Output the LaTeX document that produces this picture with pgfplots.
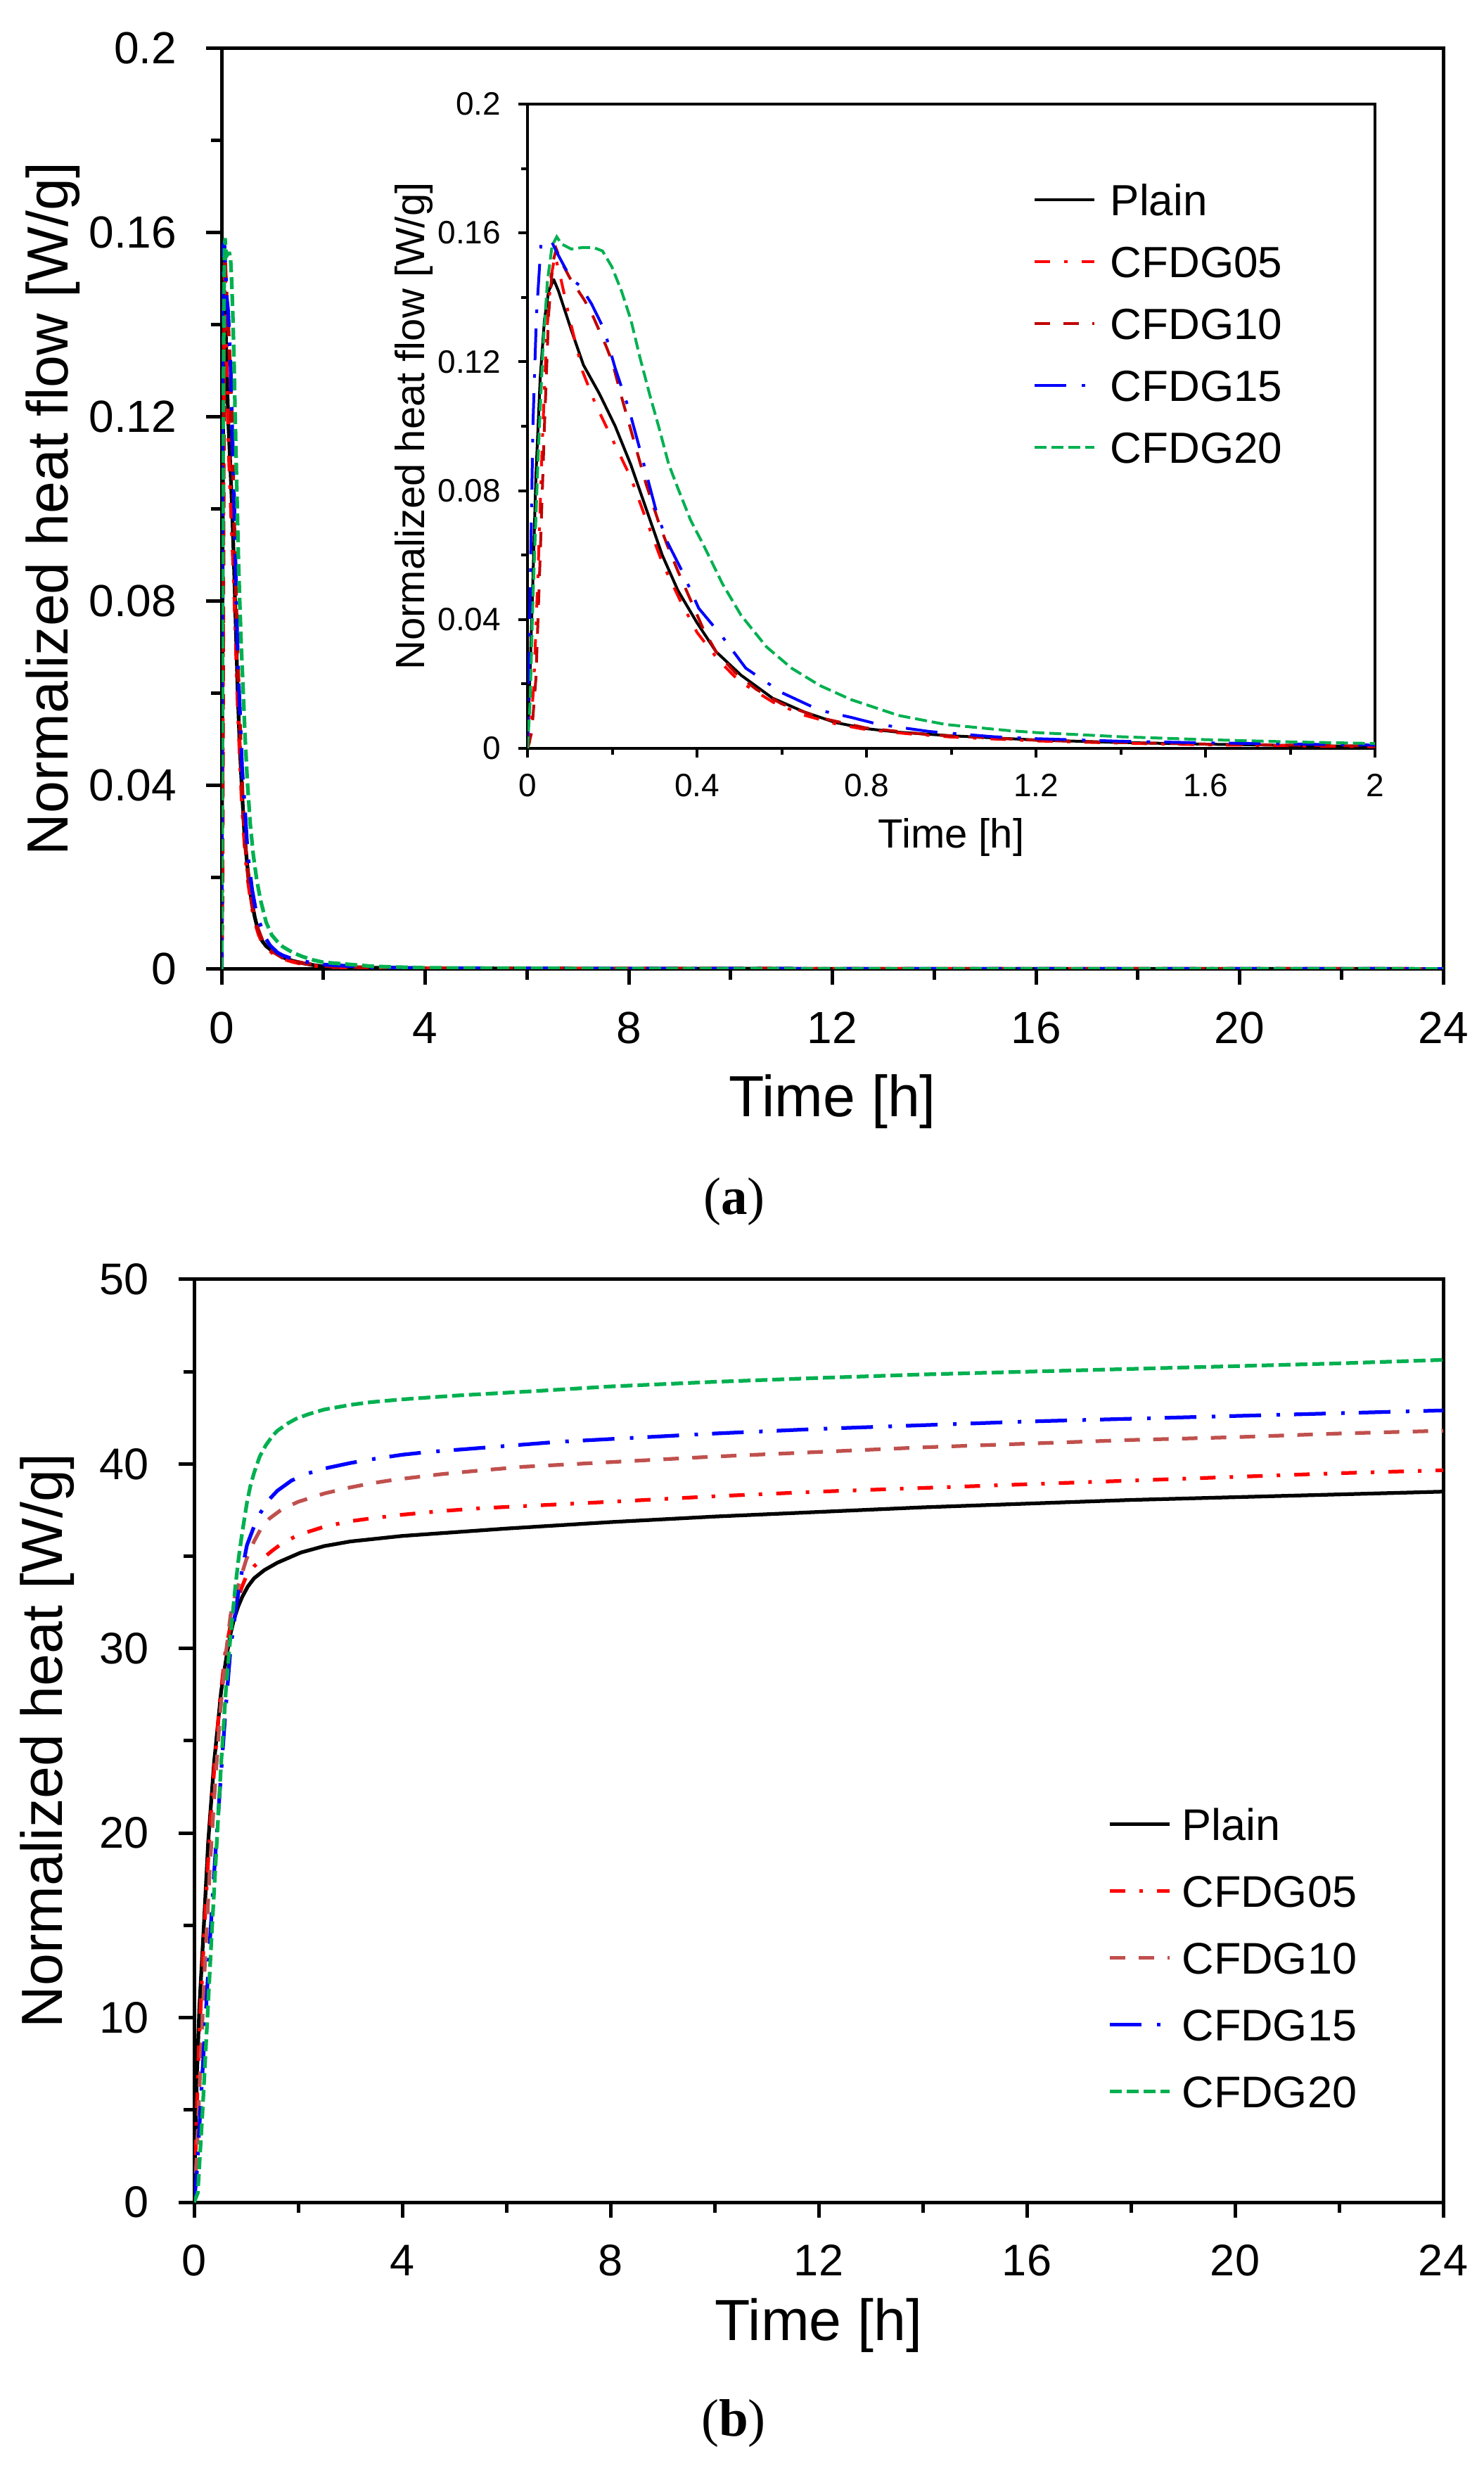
\documentclass[border=0pt]{standalone}
\usepackage{fontspec}
\setmainfont{Liberation Sans}
\newfontfamily\capfont{Liberation Serif}
\usepackage{pgfplots}
\usepackage{pgfplotstable}
\pgfplotsset{compat=1.18}

\definecolor{cred}{RGB}{255,0,0}
\definecolor{cdred}{RGB}{192,0,0}
\definecolor{crose}{RGB}{192,80,77}
\definecolor{cblue}{RGB}{0,0,255}
\definecolor{cgreen}{RGB}{0,176,80}

\pgfplotstableread{
t v
0 0
0.01 0.04
0.02 0.085
0.03 0.115
0.04 0.133
0.05 0.142
0.062 0.1455
0.073 0.142
0.103 0.130
0.132 0.119
0.17 0.110
0.207 0.100
0.244 0.088
0.281 0.074
0.318 0.060
0.355 0.049
0.40 0.039
0.445 0.030
0.504 0.0227
0.578 0.0156
0.653 0.0113
0.727 0.0080
0.80 0.0061
0.876 0.0050
1.0 0.0039
1.2 0.0026
1.4 0.0018
1.6 0.0013
1.8 0.0009
2.0 0.0006
3 0.0003
4 0.0002
8 0.0001
24 0.00005
}\fPlain

\pgfplotstableread{
t v
0 0
0.005 0.002
0.015 0.02
0.025 0.055
0.035 0.095
0.045 0.128
0.055 0.146
0.065 0.153
0.08 0.145
0.1 0.133
0.13 0.117
0.16 0.107
0.2 0.096
0.244 0.084
0.28 0.071
0.32 0.057
0.36 0.046
0.4 0.036
0.45 0.0275
0.5 0.0208
0.58 0.0143
0.65 0.0104
0.73 0.0075
0.8 0.0058
0.9 0.0045
1.0 0.0035
1.2 0.0023
1.4 0.0016
1.6 0.0011
1.8 0.0008
2.0 0.0005
3 0.0003
4 0.0002
8 0.0001
24 0.00005
}\fA

\pgfplotstableread{
t v
0 0
0.01 0.005
0.02 0.022
0.03 0.06
0.04 0.10
0.05 0.135
0.06 0.151
0.068 0.155
0.08 0.151
0.1 0.146
0.135 0.139
0.155 0.134
0.185 0.125
0.2 0.12
0.22 0.11
0.25 0.096
0.28 0.082
0.31 0.070
0.33 0.063
0.355 0.055
0.385 0.046
0.415 0.037
0.445 0.030
0.49 0.0235
0.54 0.0183
0.6 0.0138
0.69 0.0095
0.8 0.0063
0.95 0.0042
1.2 0.0025
1.4 0.0018
1.6 0.0013
2.0 0.0007
3 0.0003
4 0.0002
8 0.0001
24 0.00005
}\fB

\pgfplotstableread{
t v
0 0
0.006 0.047
0.013 0.101
0.021 0.134
0.032 0.157
0.045 0.1575
0.058 0.157
0.073 0.153
0.103 0.1457
0.125 0.1435
0.151 0.138
0.181 0.130
0.207 0.118
0.24 0.105
0.27 0.0905
0.303 0.074
0.329 0.0643
0.363 0.0555
0.404 0.0435
0.459 0.0348
0.515 0.0249
0.60 0.0173
0.69 0.0118
0.764 0.0096
0.83 0.0074
0.95 0.0052
1.1 0.0036
1.2 0.0030
1.4 0.0022
1.6 0.0017
2.0 0.0010
3 0.0004
4 0.0002
8 0.0001
24 0.00005
}\fC

\pgfplotstableread{
t v
0 0
0.006 0.014
0.013 0.047
0.025 0.09
0.036 0.123
0.047 0.145
0.058 0.156
0.069 0.1588
0.08 0.1566
0.103 0.155
0.132 0.1555
0.155 0.1555
0.177 0.1544
0.199 0.1495
0.222 0.1419
0.244 0.133
0.266 0.121
0.288 0.110
0.311 0.0992
0.333 0.0883
0.355 0.0807
0.385 0.0708
0.415 0.0632
0.46 0.0511
0.504 0.0413
0.564 0.0315
0.623 0.0249
0.69 0.0195
0.764 0.0151
0.876 0.0102
0.987 0.0074
1.136 0.0055
1.2 0.0049
1.4 0.0036
1.6 0.0027
1.8 0.0020
2.0 0.0015
3 0.0006
4 0.0003
8 0.0001
24 0.00005
}\fD

\pgfplotstableread{
t v
0 0
0.02 3
0.05 6.5
0.1 10.5
0.18 14.6
0.27 19.5
0.383 23.8
0.52 27.7
0.63 29.7
0.7 30.8
0.767 31.6
0.85 32.3
0.925 32.8
1.03 33.35
1.15 33.8
1.35 34.25
1.6 34.65
2.05 35.2
2.5 35.55
3 35.8
4 36.1
5 36.3
6 36.5
8 36.85
10 37.15
12 37.4
14 37.65
16 37.85
18 38.05
20 38.2
22 38.35
24 38.5
}\hPlain

\pgfplotstableread{
t v
0 0
0.02 2
0.05 5
0.1 9
0.2 15
0.3 20
0.4 24
0.5 27.3
0.6 29.8
0.7 31.3
0.83 32.6
0.92 33.35
1.015 34.0
1.15 34.45
1.285 34.8
1.5 35.3
1.69 35.7
2.0 36.15
2.5 36.6
3 36.9
3.4 37.05
4 37.25
4.76 37.45
5.5 37.6
6.56 37.75
8 37.95
10 38.25
12 38.5
14 38.7
16 38.9
18 39.1
20 39.3
22 39.5
24 39.66
}\hA

\pgfplotstableread{
t v
0 0
0.05 2.5
0.1 6
0.2 12.5
0.3 18
0.4 22.5
0.5 26.5
0.6 29.5
0.7 31.8
0.8 33.0
0.88 33.7
1.0 34.8
1.15 35.8
1.285 36.5
1.45 37.05
1.69 37.55
2.0 37.95
2.5 38.4
2.95 38.7
3.4 38.95
3.86 39.15
4.76 39.45
5.5 39.65
6.34 39.85
8 40.1
10 40.4
12 40.65
14 40.9
16 41.1
18 41.3
20 41.45
22 41.65
24 41.8
}\hB

\pgfplotstableread{
t v
0 0
0.05 1.5
0.1 4
0.2 9
0.3 14
0.4 18.5
0.5 22.5
0.6 26.5
0.7 30.0
0.81 32.3
0.925 34.3
1.015 35.6
1.15 36.6
1.285 37.4
1.45 38.1
1.6 38.55
1.87 39.1
2.2 39.5
2.5 39.75
3 40.05
3.4 40.25
4 40.5
4.5 40.65
5.2 40.8
6.1 41.0
7 41.2
8 41.35
10 41.65
12 41.9
14 42.1
16 42.3
18 42.45
20 42.6
22 42.75
24 42.9
}\hC

\pgfplotstableread{
t v
0 0
0.07 0.5
0.16 4.8
0.25 9.7
0.34 14.6
0.43 19.2
0.52 23.8
0.61 27.7
0.7 30.7
0.79 33.3
0.86 35.0
0.925 36.3
1.015 37.9
1.08 38.8
1.15 39.5
1.26 40.4
1.375 41.0
1.5 41.5
1.6 41.8
1.8 42.2
1.96 42.45
2.2 42.7
2.5 42.95
3 43.2
3.4 43.35
4 43.5
5 43.7
6.56 43.95
8 44.2
10 44.45
12 44.66
14 44.85
16 45.0
18 45.15
20 45.3
22 45.45
24 45.64
}\hD

\pgfplotsset{
  base/.style={
    scale only axis, anchor=south west,
    axis line style={line width=1pt, black},
    every tick/.style={line width=1pt, black},
    tick align=outside, tick pos=left,
    major tick length=4.4pt, minor tick length=3pt,
    /pgf/number format/assume math mode=true,
    minor x tick num=1, minor y tick num=1,
    legend cell align=left,
    legend image code/.code={\draw[##1] (0pt,0pt) -- (17pt,0pt);},
  },
  lw/.style={line width=1.05pt},
  sP/.style={black, lw, line join=round},
  sA/.style={cred, lw, dash pattern=on 4.4pt off 4pt on 1pt off 4pt},
  sB/.style={cdred, lw, dash pattern=on 4.4pt off 3.8pt},
  sBb/.style={crose, lw, dash pattern=on 4.4pt off 3.8pt},
  sC/.style={cblue, lw, dash pattern=on 9pt off 4.4pt on 1pt off 4pt},
  sD/.style={cgreen, lw, dash pattern=on 3.4pt off 1.4pt},
}

\begin{document}
\begin{tikzpicture}
\path[use as bounding box] (0,0) rectangle (422pt,703.2pt);

% ---------- (a) main ----------
\begin{axis}[base,
  at={(63pt,427.6pt)}, width=347.4pt, height=261.8pt,
  xmin=0, xmax=24, ymin=0, ymax=0.2,
  xtick={0,4,8,12,16,20,24},
  ytick={0,0.04,0.08,0.12,0.16,0.2},
  yticklabels={0,0.04,0.08,0.12,0.16,0.2},
  tick label style={font=\fontsize{12.8}{15}\selectfont},
  yticklabel style={anchor=east, inner sep=0pt, xshift=-8.2pt},
  xticklabel style={anchor=north, inner sep=0pt, yshift=-7.6pt},
  label style={font=\fontsize{16.5}{19}\selectfont},
  xlabel={Time [h]}, ylabel={Normalized heat flow [W/g]},
  xlabel style={at={(axis description cs:0.5,-0.1604)}, anchor=base},
  ylabel style={at={(axis description cs:-0.138,0.5)}, anchor=center},
]
\addplot[sP] table[x=t,y=v] {\fPlain};
\addplot[sA] table[x=t,y=v] {\fA};
\addplot[sB] table[x=t,y=v] {\fB};
\addplot[sC] table[x=t,y=v] {\fC};
\addplot[sD] table[x=t,y=v] {\fD};
\end{axis}

% ---------- (a) inset ----------
\begin{axis}[base,
  at={(150pt,490.4pt)}, width=241pt, height=183.2pt,
  axis line style={line width=0.8pt, black},
  every tick/.style={line width=0.8pt, black},
  lw/.style={line width=0.8pt},
  major tick length=2.6pt, minor tick length=1.8pt,
  xmin=0, xmax=2, ymin=0, ymax=0.2,
  xtick={0,0.4,0.8,1.2,1.6,2},
  xticklabels={0,0.4,0.8,1.2,1.6,2},
  ytick={0,0.04,0.08,0.12,0.16,0.2},
  yticklabels={0,0.04,0.08,0.12,0.16,0.2},
  tick label style={font=\fontsize{9.2}{11}\selectfont},
  yticklabel style={anchor=east, inner sep=0pt, xshift=-4.8pt},
  xticklabel style={anchor=north, inner sep=0pt, yshift=-4.5pt},
  label style={font=\fontsize{11.6}{14}\selectfont},
  xlabel={Time [h]}, ylabel={Normalized heat flow [W/g]},
  xlabel style={at={(axis description cs:0.5,-0.154)}, anchor=base},
  ylabel style={at={(axis description cs:-0.1344,0.5)}, anchor=center},
  legend style={draw=none, fill=none, at={(axis description cs:0.596,0.877)}, anchor=north west,
    font=\fontsize{12.4}{14}\selectfont, inner sep=0pt, row sep=8.6pt,
    nodes={inner sep=0pt, text height=9pt, text depth=0pt},
    cells={anchor=west},
    /tikz/every odd column/.style={column sep=4.1pt}},
]
\addplot[sP] table[x=t,y=v] {\fPlain};
\addplot[sA] table[x=t,y=v] {\fA};
\addplot[sB] table[x=t,y=v] {\fB};
\addplot[sC] table[x=t,y=v] {\fC};
\addplot[sD] table[x=t,y=v] {\fD};
\legend{Plain,CFDG05,CFDG10,CFDG15,CFDG20}
\end{axis}

\node[font=\capfont\fontsize{15}{18}\selectfont] at (208.8pt,361.6pt) {(\textbf{a})};

% ---------- (b) ----------
\begin{axis}[base,
  at={(55.2pt,77pt)}, width=355.2pt, height=262.4pt,
  xmin=0, xmax=24, ymin=0, ymax=50,
  xtick={0,4,8,12,16,20,24},
  ytick={0,10,20,30,40,50},
  tick label style={font=\fontsize{12.6}{15}\selectfont},
  yticklabel style={anchor=east, inner sep=0pt, xshift=-8.2pt},
  xticklabel style={anchor=north, inner sep=0pt, yshift=-7.6pt},
  label style={font=\fontsize{16.5}{19}\selectfont},
  xlabel={Time [h]}, ylabel={Normalized heat [W/g]},
  xlabel style={at={(axis description cs:0.5,-0.1494)}, anchor=base},
  ylabel style={at={(axis description cs:-0.1177,0.5)}, anchor=center},
  legend style={draw=none, fill=none, at={(axis description cs:0.731,0.4275)}, anchor=north west,
    font=\fontsize{12.6}{15}\selectfont, inner sep=0pt, row sep=10pt,
    nodes={inner sep=0pt, text height=9pt, text depth=0pt},
    cells={anchor=west},
    /tikz/every odd column/.style={column sep=3.0pt}},
]
\addplot[sP] table[x=t,y=v] {\hPlain};
\addplot[sA] table[x=t,y=v] {\hA};
\addplot[sBb] table[x=t,y=v] {\hB};
\addplot[sC] table[x=t,y=v] {\hC};
\addplot[sD] table[x=t,y=v] {\hD};
\legend{Plain,CFDG05,CFDG10,CFDG15,CFDG20}
\end{axis}

\node[font=\capfont\fontsize{15}{18}\selectfont] at (208.6pt,14.2pt) {(\textbf{b})};
\end{tikzpicture}
\end{document}
